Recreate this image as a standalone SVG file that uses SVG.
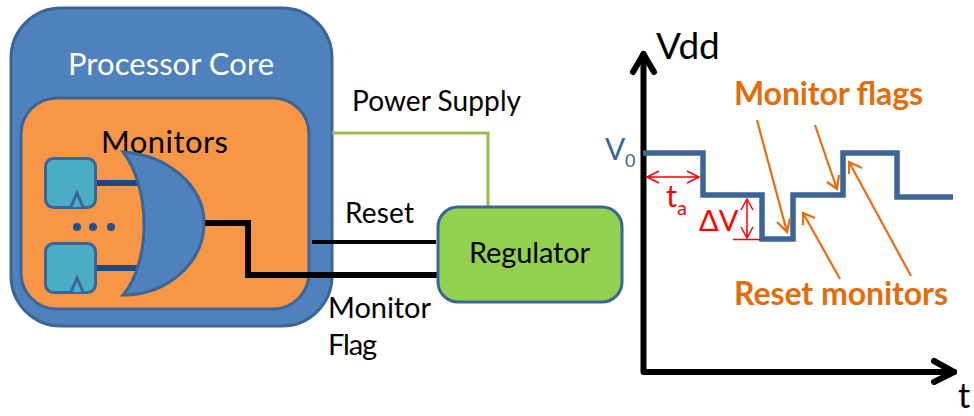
<svg xmlns="http://www.w3.org/2000/svg" width="974" height="416" viewBox="0 0 974 416">
<style>
text{font-family:"Lato","Carlito","Liberation Sans",sans-serif}
.k{fill:#000}
.o{fill:#e46c0a;font-weight:700;font-size:32px}
.b{stroke:#3a6595;stroke-width:3}
.ff{fill:#4bacc6;stroke:#3a6595;stroke-width:3}
.or{stroke:#ea6c10;stroke-width:2.200;fill:none}
.r{stroke:#f00;stroke-width:1.500;fill:none}
.wave{fill:none;stroke:#3a6595;stroke-width:5.500}
.ax{fill:none;stroke:#000;stroke-width:6;stroke-linecap:round;stroke-linejoin:round}
</style>
<g id="processor-core"><rect x="11" y="8" width="321" height="318" rx="50" fill="#4f81bd" class="b"/><text x="68" y="75" font-size="31" fill="#fff" textLength="206">Processor Core</text></g>
<g id="monitors"><rect x="21" y="98" width="288" height="211" rx="36" fill="#f79646" class="b"/><text x="101" y="153" font-size="31" class="k" textLength="127">Monitors</text></g>
<g id="connectors" fill="none">
<path d="M95 183H140M95 268H138" stroke="#1f497d" stroke-width="6"/>
<path d="M204 223H248V275H438" stroke="#000" stroke-width="6"/>
<path d="M312 242H436" stroke="#000" stroke-width="4"/>
<path d="M332 133H488V207" stroke="#9bbb59" stroke-width="3.200"/>
</g>
<g id="flipflop-1"><rect x="45.500" y="158.500" width="50" height="49" rx="8" class="ff"/><path d="M71 207L77 193L83 207" class="ff"/></g>
<g id="flipflop-2"><rect x="45.500" y="243.500" width="50" height="49" rx="8" class="ff"/><path d="M71 292L77 278L83 292" class="ff"/></g>
<g id="dots" fill="#24518c"><circle cx="77" cy="227" r="4"/><circle cx="93" cy="227" r="4"/><circle cx="111" cy="227" r="4"/></g>
<g id="or-gate"><path d="M123 152C168 155 204 186 204 223C204 262 168 295 123 295C151 262 151 188 123 152Z" fill="#4f81bd" class="b"/></g>
<g id="regulator"><rect x="438" y="207" width="184" height="95" rx="20" fill="#92d050" class="b"/><text x="469" y="263" font-size="29" class="k" textLength="121">Regulator</text></g>
<g id="labels" font-size="28" class="k">
<text x="352" y="111" textLength="169">Power Supply</text>
<text x="345" y="223" textLength="69">Reset</text>
<text x="328" y="318" font-size="29" textLength="103">Monitor</text>
<text x="328" y="355" font-size="29" textLength="49">Flag</text>
</g>
<g id="graph">
<path class="ax" d="M643.500 54V372H954"/>
<path class="ax" d="M633 72L643.500 54L654 72M934 361L954 372L934 382"/>
<text x="656" y="59" font-size="37" class="k">Vdd</text>
<text x="958" y="408" font-size="34" class="k">t</text>
<path class="wave" d="M643 153H703V195H762V239H793V195H843V153H897V197H953"/>
<text x="605" y="160" font-size="30" fill="#3a6595">V</text><text x="625" y="167" font-size="18" fill="#3a6595">0</text>
<path class="r" d="M647 177H699M659 171L647 177L659 183M687 171L699 177L687 183"/>
<text x="666" y="207" font-size="31" fill="#f00">t</text><text x="677" y="215" font-size="20" fill="#f00">a</text>
<text x="699" y="231" font-size="29" fill="#f00">ΔV</text>
<path class="r" d="M747 199V238M733 239.500H760M741 210L747 199L753 210M741 227L747 238L753 227"/>
<text x="734" y="105" class="o" textLength="189">Monitor flags</text>
<text x="734" y="305" class="o" textLength="214">Reset monitors</text>
<path class="or" d="M757 120L787 232M777 222L787 232L790 218M815 125L837 189M827 182L837 189L839 175M840 279L803 213M803 225L803 213L815 218M911 276L849 162M849 174L849 162L862 168"/>
</g>
</svg>
